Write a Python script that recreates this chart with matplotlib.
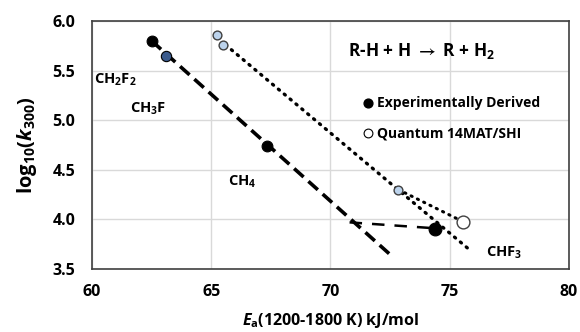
import numpy as np
import matplotlib
matplotlib.use("Agg")
import matplotlib.pyplot as plt

plt.rcParams['font.family'] = ['Open Sans', 'DejaVu Sans']
plt.rcParams['font.weight'] = 'bold'
plt.rcParams['mathtext.fontset'] = 'custom'
plt.rcParams['mathtext.rm'] = 'Open Sans:bold'
plt.rcParams['mathtext.bf'] = 'Open Sans:bold'
plt.rcParams['mathtext.it'] = 'Open Sans:italic:bold'
plt.rcParams['mathtext.fallback'] = 'stixsans'

# experimental activation energies (kJ/mol) and log10 k(300)
exp_ea = [62.5, 63.1, 67.35, 74.4]
exp_logk = [5.80, 5.65, 4.74, 3.90]

# quantum 14MAT/SHI results
qm_ea = [65.25, 65.5, 72.85, 75.55]
qm_logk = [5.86, 5.76, 4.30, 3.97]

# trend lines
fit_exp_x = [62.5, 72.62]
fit_exp_y = [5.80, 3.62]
chf3_exp_x = [70.8, 74.4]
chf3_exp_y = [3.97, 3.91]
fit_qm_x = [65.6, 75.85]
fit_qm_y = [5.76, 3.69]
chf3_qm_x = [72.85, 75.45]
chf3_qm_y = [4.30, 3.99]

species = ["CH$_2$F$_2$", "CH$_3$F", "CH$_4$", "CHF$_3$"]
species_x = [60.1, 61.6, 65.7, 76.5]
species_y = [5.41, 5.11, 4.38, 3.66]


def main():
    fig = plt.figure(figsize=(5.8, 3.32), dpi=100)
    ax = fig.add_axes([0.1586, 0.1898, 0.8224, 0.7469])

    ax.plot(fit_exp_x, fit_exp_y, color='black', lw=2.6, ls=(0, (3.5, 1.8)), zorder=2)
    ax.plot(chf3_exp_x, chf3_exp_y, color='black', lw=1.8, ls=(0, (5, 4)), zorder=2)
    ax.plot(fit_qm_x, fit_qm_y, color='black', lw=2.4, ls=(0, (0.4, 1.9)),
            dash_capstyle='round', zorder=2)
    ax.plot(chf3_qm_x, chf3_qm_y, color='black', lw=2.2, ls=(0, (0.4, 1.9)),
            dash_capstyle='round', zorder=2)

    exp_face = ['black', '#3a5a8c', 'black', 'black']
    exp_size = [60, 55, 60, 85]
    for x, y, fc, s in zip(exp_ea, exp_logk, exp_face, exp_size):
        ax.scatter(x, y, s=s, color=fc, edgecolors='black', linewidths=0.8, zorder=3)

    qm_face = ['#bcd3ec', '#bcd3ec', '#bcd3ec', 'white']
    qm_size = [40, 40, 40, 85]
    for x, y, fc, s in zip(qm_ea, qm_logk, qm_face, qm_size):
        ax.scatter(x, y, s=s, color=fc, edgecolors='#404040', linewidths=1.0, zorder=4)

    for name, x, y in zip(species, species_x, species_y):
        ax.text(x, y, name, fontsize=10.5, fontweight='bold', va='center', ha='left')

    ax.text(70.75, 5.70, "R-H + H $\\rightarrow$ R + H$_2$", fontsize=12.5,
            fontweight='bold', va='center', ha='left')

    ax.scatter([71.57], [5.17], s=40, color='black', zorder=3)
    ax.text(71.95, 5.17, "Experimentally Derived", fontsize=10, fontweight='bold',
            va='center', ha='left')
    ax.scatter([71.57], [4.87], s=40, color='white', edgecolors='black', linewidths=0.8,
               zorder=3)
    ax.text(71.95, 4.87, "Quantum 14MAT/SHI", fontsize=10, fontweight='bold',
            va='center', ha='left')

    ax.set_xlim(60, 80)
    ax.set_ylim(3.5, 6.0)
    ax.set_xticks(np.arange(60, 81, 5))
    ax.set_yticks(np.arange(3.5, 6.01, 0.5))
    ax.set_yticklabels(["%.1f" % v for v in np.arange(3.5, 6.01, 0.5)])
    ax.grid(True, color='#d9d9d9', lw=1.0)
    ax.set_axisbelow(True)
    ax.tick_params(length=0, labelsize=11.5, pad=12)
    ax.tick_params(axis='x', pad=11)
    for lab in ax.get_xticklabels() + ax.get_yticklabels():
        lab.set_fontweight('bold')
    for sp in ax.spines.values():
        sp.set_color('#404040')
        sp.set_linewidth(1.2)

    ax.set_xlabel("$\\mathit{E}_\\mathrm{a}$(1200-1800 K) kJ/mol", fontsize=11.5,
                  fontweight='bold', labelpad=8)
    ax.set_ylabel("log$_{10}$($\\mathit{k}_{300}$)", fontsize=14.5, fontweight='bold',
                  labelpad=10)

    fig.savefig("out.png", dpi=100)


if __name__ == "__main__":
    main()
